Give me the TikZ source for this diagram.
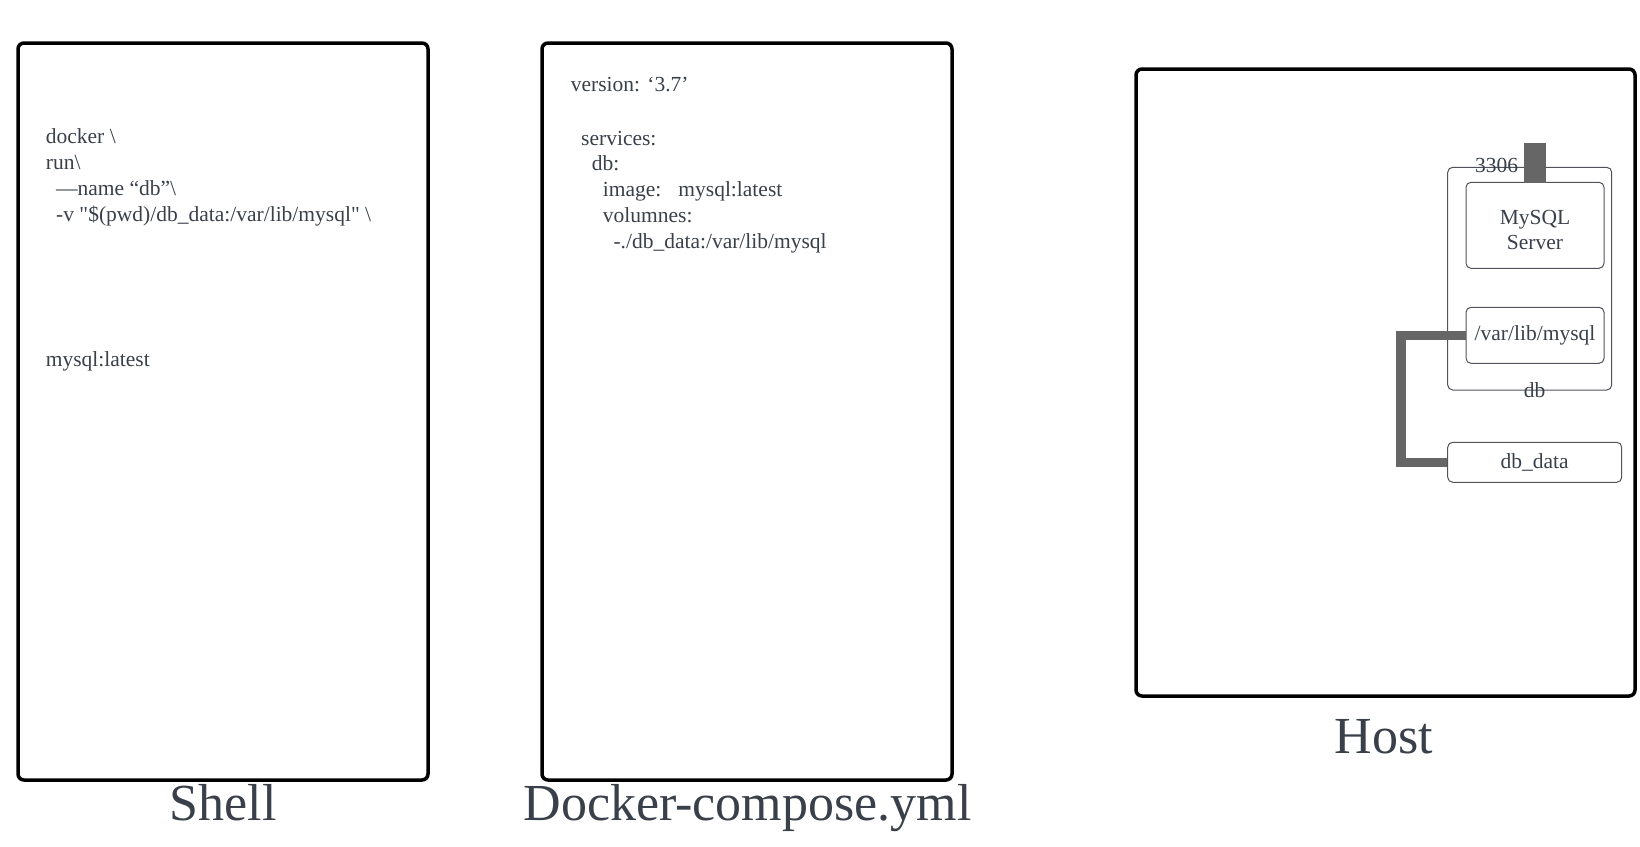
\documentclass[tikz,border=0pt]{standalone}
\usepackage{fontspec}
\setmainfont{Liberation Serif}[Ligatures=TeXOff]
\definecolor{txt}{RGB}{58,64,74}
\definecolor{thin}{RGB}{80,84,90}
\definecolor{conncol}{RGB}{102,102,102}
\begin{document}
\begin{tikzpicture}[x=1pt,y=-1pt,
  outerbox/.style={draw=black, line width=3.5pt, rounded corners=6pt, inner sep=0pt},
  innerbox/.style={draw=thin, line width=1pt, rounded corners=5pt, inner sep=0pt, text=txt, align=center,
    font=\fontsize{21.5}{24.5}\selectfont},
  code/.style={anchor=base west, inner sep=0pt, text=txt, font=\fontsize{21.5}{26}\selectfont},
  lbl/.style={anchor=base, inner sep=0pt, text=txt, font=\fontsize{21.5}{26}\selectfont},
  title/.style={anchor=base, inner sep=0pt, text=txt, font=\fontsize{52}{60}\selectfont},
  conn/.style={draw=conncol, line width=9.5pt},
  portbox/.style={fill=conncol, draw=none, inner sep=0pt, minimum width=22pt, minimum height=40pt}]
\useasboundingbox (0,0) rectangle (1640,846);
\fill[white] (0,0) rectangle (1640,846);

% outer boxes
\node[outerbox, minimum width=410pt, minimum height=737pt] (shell) at (223,411.5) {};
\node[outerbox, minimum width=410pt, minimum height=737pt] (compose) at (747,411.5) {};
\node[outerbox, minimum width=499pt, minimum height=627pt] (host) at (1385.5,382.5) {};

% titles
\node[title] (shelltitle) at (223,820) {Shell};
\node[title] (composetitle) at (747.5,820) {Docker-compose.yml};
\node[title] (hosttitle) at (1384,753) {Host};

% shell text
\node[code] (sh1) at (45.7,143.3) {docker \textbackslash};
\node[code] (sh2) at (45.7,169.3) {run\textbackslash};
\node[code] (sh3) at (56,195) {—name “db”\textbackslash};
\node[code] (sh4) at (56,221) {-v "\$(pwd)/db\_data:/var/lib/mysql" \textbackslash};
\node[code] (sh5) at (45.7,366.7) {mysql:latest};

% compose text
\node[code] (dc1) at (570.7,91.7) {version: ‘3.7’};
\node[code] (dc2) at (581,145) {services:};
\node[code] (dc3) at (591.7,170) {db:};
\node[code] (dc4) at (602.7,196.7) {image:\hspace*{17pt}mysql:latest};
\node[code] (dc5) at (602.7,222.7) {volumnes:};
\node[code] (dc6) at (613.3,248.3) {-./db\_data:/var/lib/mysql};

% host content
\node[innerbox, minimum width=164pt, minimum height=222.7pt] (db) at (1529.7,278.65) {};
\node[innerbox, minimum width=138pt, minimum height=86pt] (mysql) at (1535,225.3) {};
\node[inner sep=0pt, text=txt, align=center, font=\fontsize{21.5}{24.5}\selectfont] (mysqltext) at (1535,230) {MySQL\\Server};
\node[innerbox, minimum width=138pt, minimum height=56pt] (vol) at (1535,335.3) {/var/lib/mysql};
\node[innerbox, minimum width=174pt, minimum height=40pt] (dbdata) at (1534.7,462.3) {db\_data};
\node[portbox] (port) at (1535,163) {};
\node[lbl] (portlbl) at (1496.7,172.5) {3306};
\node[lbl] (dblbl) at (1534.5,397) {db};

\draw[conn] (vol.west) -- ++(-64.5,0) |- (dbdata.west);
\end{tikzpicture}
\end{document}
